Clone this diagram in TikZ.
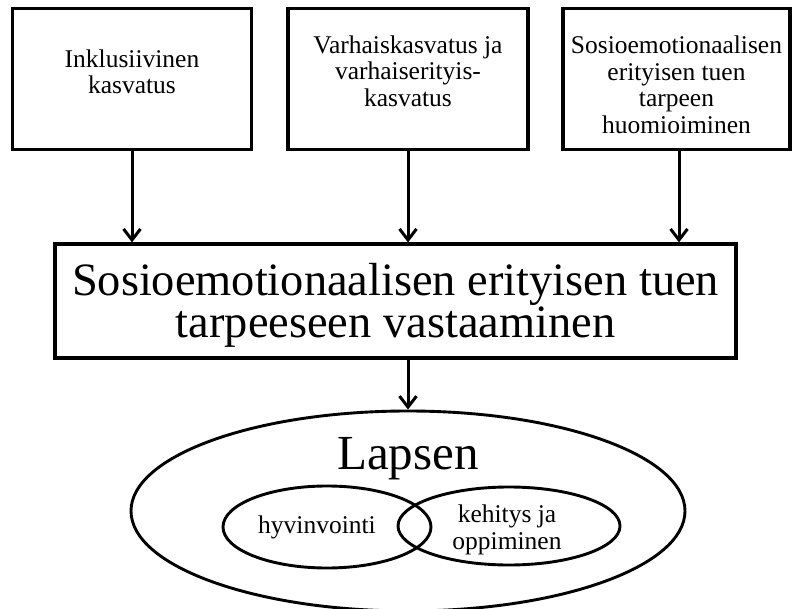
\documentclass[tikz,border=0pt]{standalone}
\usepackage{fontspec}
\setmainfont{Liberation Serif}
\usetikzlibrary{arrows.meta,shapes.geometric}
\tikzset{
  box/.style={draw=black, line width=3.2pt, inner sep=0pt},
  oval/.style={draw=black, line width=2.9pt, ellipse, inner sep=0pt},
  small/.style={inner sep=0pt, align=center, font=\fontsize{25.5}{26.5}\selectfont},
  big/.style={inner sep=0pt, align=center, font=\fontsize{46.4}{42}\selectfont},
  arr/.style={line width=3pt, -{Straight Barb[length=11pt,width=17pt,line width=3pt]}}
}
\begin{document}
\begin{tikzpicture}[x=1pt,y=-1pt]
\useasboundingbox (0,0) rectangle (792,609);
% top boxes
\node[box, minimum width=239pt, minimum height=141pt] (b1) at (132,79) {};
\node[box, minimum width=240pt, minimum height=141pt] (b2) at (408,79) {};
\node[box, minimum width=227pt, minimum height=141pt] (b3) at (676.5,79) {};
\node[small] (t1) at (132,72) {Inklusiivinen\\kasvatus};
\node[small] (t2) at (408,71) {Varhaiskasvatus ja\\varhaiserityis-\\kasvatus};
\node[small] (t3) at (676.5,85) {Sosioemotionaalisen\\erityisen tuen\\tarpeen\\huomioiminen};
% main box
\node[box, minimum width=681pt, minimum height=114pt] (m) at (395.5,301) {};
\node[big] (mt) at (395.5,305) {Sosioemotionaalisen erityisen tuen\\tarpeeseen vastaaminen};
% ellipses
\node[oval, minimum width=554pt, minimum height=200pt] (o) at (408,511) {};
\node[inner sep=0pt, font=\fontsize{49}{50}\selectfont] (lt) at (408,459) {Lapsen};
\node[oval, minimum width=208pt, minimum height=82pt] (e1) at (327,527) {};
\node[oval, minimum width=222pt, minimum height=78pt] (e2) at (509,526) {};
\node[small] (h) at (317,527) {hyvinvointi};
\node[small] (k) at (507,530) {kehitys ja\\oppiminen};
% arrows
\draw[arr] (b1.south) -- (b1.south |- m.north);
\draw[arr] (b2.south) -- (b2.south |- m.north);
\draw[arr] (679,150) coordinate (c3) -- (c3 |- m.north);
\draw[arr] (m.south -| o.north) -- (o.north);
\end{tikzpicture}
\end{document}
